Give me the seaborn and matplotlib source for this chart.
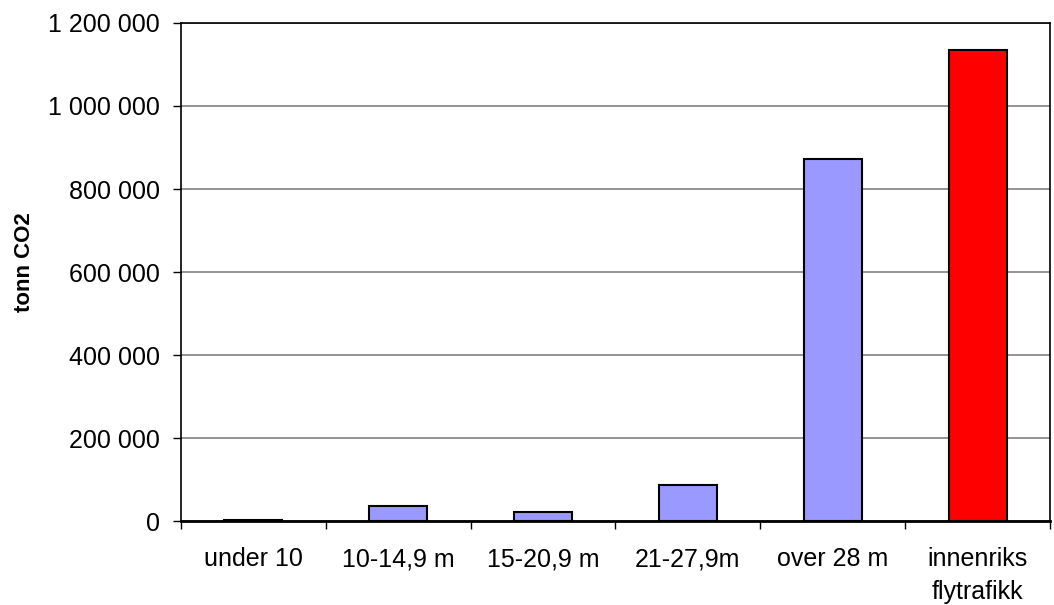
import pandas as pd
import seaborn as sns
import matplotlib.pyplot as plt
from matplotlib.ticker import FuncFormatter, FixedLocator

categories = ["under 10", "10-14,9 m", "15-20,9 m", "21-27,9m", "over 28 m", "innenriks\nflytrafikk"]
values = [3500, 36000, 21000, 85700, 873000, 1135000]
colors = ["#9999FF", "#9999FF", "#9999FF", "#9999FF", "#9999FF", "#FF0000"]

df = pd.DataFrame({"kategori": categories, "tonn": values})

sns.set_style("white")
plt.rcParams["font.family"] = ["Liberation Sans", "DejaVu Sans"]
plt.rcParams["text.color"] = "black"
plt.rcParams["axes.labelcolor"] = "black"
plt.rcParams["xtick.color"] = "black"
plt.rcParams["ytick.color"] = "black"

fig = plt.figure(figsize=(10.54, 6.05), dpi=100)
ax = fig.add_axes([0.1717, 0.1388, 0.8245, 0.8232])

sns.barplot(
    data=df,
    x="kategori",
    y="tonn",
    hue="kategori",
    palette=dict(zip(categories, colors)),
    legend=False,
    width=0.4,
    edgecolor="black",
    linewidth=1.5,
    saturation=1,
    ax=ax,
    zorder=3,
)

ax.set_xlim(-0.5, len(categories) - 0.5)
ax.set_ylim(0, 1200000)
ax.set_yticks(range(0, 1200001, 200000))
ax.yaxis.set_major_formatter(FuncFormatter(lambda v, p: "{:,.0f}".format(v).replace(",", " ")))
ax.grid(axis="y", color="#808080", linewidth=1.2, zorder=0)
ax.set_axisbelow(True)

# tick marks between categories, labels centred
ax.set_xticks(range(len(categories)))
ax.set_xticklabels(categories, linespacing=1.45)
ax.xaxis.set_minor_locator(FixedLocator([i - 0.5 for i in range(len(categories) + 1)]))
ax.tick_params(axis="x", which="major", length=0, pad=19, labelsize=18, labelcolor="black")
ax.tick_params(axis="x", which="minor", length=6, width=1, color="black", direction="out", bottom=True)
ax.tick_params(axis="y", length=6, width=1, color="black", direction="out", left=True, labelsize=18, pad=9, labelcolor="black")

for s in ax.spines.values():
    s.set_color("black")
    s.set_linewidth(1.2)
ax.spines["bottom"].set_linewidth(2)

ax.set_xlabel("")
ax.set_ylabel("tonn CO2", fontsize=16, fontweight="bold", color="black")
ax.yaxis.set_label_coords(-0.168, 0.52)

fig.savefig("out.png", dpi=100)
